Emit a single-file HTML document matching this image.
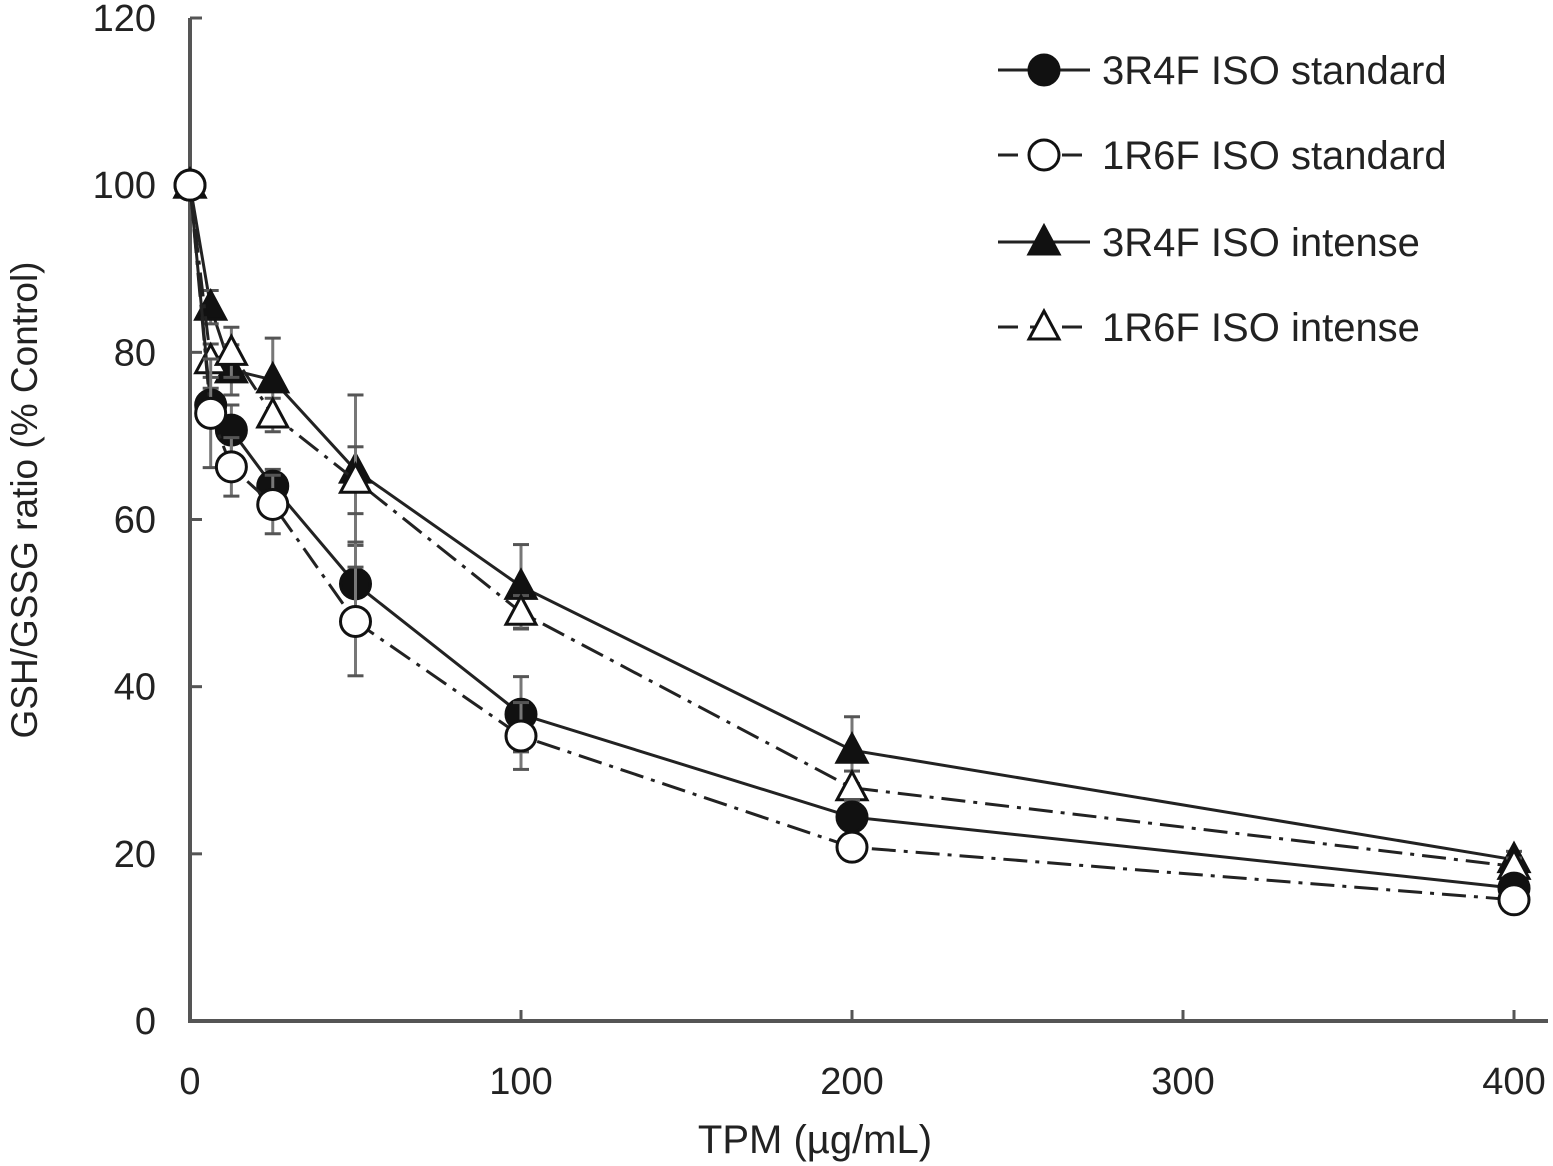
<!DOCTYPE html>
<html><head><meta charset="utf-8"><style>
html,body{margin:0;padding:0;background:#fff}
svg{display:block}
text{font-family:"Liberation Sans",Arial,sans-serif;fill:#222}
</style></head><body>
<svg id="chart" width="1553" height="1166" viewBox="0 0 1553 1166" xmlns="http://www.w3.org/2000/svg"></svg>
<script>
const doses=[0,6.25,12.5,25,50,100,200,400];
const s3R4Fstd=[100,73.7,70.7,64,52.3,36.7,24.4,15.9];
const e3R4Fstd=[0,2,3,2,5,4.5,2,1];
const s1R6Fstd=[100,72.7,66.3,61.8,47.8,34.1,20.8,14.5];
const e1R6Fstd=[0,6.5,3.5,3.5,6.5,4,1,1];
const s3R4Fint=[100,85.4,77.9,76.7,65.9,52,32.4,19.3];
const e3R4Fint=[0,2,3,5,9,5,4,1];
const s1R6Fint=[100,79,80,72.5,64.7,48.9,27.9,18.5];
const e1R6Fint=[0,2,3,2,4,2,2,1];
const xTicks=[0,100,200,300,400];
const yTicks=[0,20,40,60,80,100,120];
const legendLabels=["3R4F ISO standard","1R6F ISO standard","3R4F ISO intense","1R6F ISO intense"];

const svg=document.getElementById('chart');
const NS='http://www.w3.org/2000/svg';
const x=v=>190+v*3.31;
const y=v=>1021-v*(1003/120);
function mk(t,a,p){const e=document.createElementNS(NS,t);for(const k in a)e.setAttribute(k,a[k]);(p||svg).appendChild(e);return e;}
const C='#222';
let ax=mk('line',{x1:190,y1:18,x2:190,y2:1021,stroke:'#555','stroke-width':4});


ax=mk('line',{x1:188,y1:1021,x2:1548,y2:1021,stroke:'#555','stroke-width':4});


yTicks.forEach(v=>{
 mk('line',{x1:190,y1:y(v),x2:202,y2:y(v),stroke:'#555','stroke-width':3});
 const t=mk('text',{x:156,y:y(v)+13,'text-anchor':'end','font-size':38});t.textContent=v;
 
 
});
xTicks.forEach(v=>{
 mk('line',{x1:x(v),y1:1021,x2:x(v),y2:1010,stroke:'#555','stroke-width':3});
 const t=mk('text',{x:x(v),y:1094,'text-anchor':'middle','font-size':38});t.textContent=v;
 
 
});
let t=mk('text',{x:815,y:1153,'text-anchor':'middle','font-size':40});t.textContent='TPM (µg/mL)';


t=mk('text',{x:0,y:0,'text-anchor':'middle','font-size':37,transform:'translate(37,500) rotate(-90)'});t.textContent='GSH/GSSG ratio (% Control)';



function marker(g,cx,cy,type){
 const filled=type==='fc'||type==='ft';
 if(type[1]==='c') mk('circle',{cx,cy,r:15,fill:filled?'#111':'#fff',stroke:'#111','stroke-width':3},g);
 else mk('polygon',{points:`${cx},${cy-16} ${cx-15},${cy+12} ${cx+15},${cy+12}`,fill:filled?'#111':'#fff',stroke:'#111','stroke-width':3},g);
}
const series=[
 {d:s3R4Fint,e:e3R4Fint,m:'ft',dash:null,name:'series-3r4f-intense'},
 {d:s1R6Fint,e:e1R6Fint,m:'ot',dash:'24,8,4,8',name:'series-1r6f-intense'},
 {d:s3R4Fstd,e:e3R4Fstd,m:'fc',dash:null,name:'series-3r4f-standard'},
 {d:s1R6Fstd,e:e1R6Fstd,m:'oc',dash:'24,8,4,8',name:'series-1r6f-standard'}
];
series.forEach(s=>{
 const g=mk('g',{});
 
 
 const pts=doses.map((d,i)=>x(d)+','+y(s.d[i])).join(' ');
 const a={points:pts,fill:'none',stroke:C,'stroke-width':3};if(s.dash)a['stroke-dasharray']=s.dash;
 mk('polyline',a,g);
 doses.forEach((d,i)=>{
  if(s.e[i]>0){
   const up=y(s.d[i]+s.e[i]),dn=y(s.d[i]-s.e[i]);
   mk('line',{x1:x(d),y1:up,x2:x(d),y2:dn,stroke:'#777','stroke-width':3},g);
   mk('line',{x1:x(d)-8,y1:up,x2:x(d)+8,y2:up,stroke:'#555','stroke-width':3},g);
   mk('line',{x1:x(d)-8,y1:dn,x2:x(d)+8,y2:dn,stroke:'#555','stroke-width':3},g);
  }
 });
 doses.forEach((d,i)=>marker(g,x(d),y(s.d[i]),s.m));
});
const lm=['fc','oc','ft','ot'],ld=[null,'20,12',null,'20,12'],ly=[70,155,242,327];
legendLabels.forEach((l,i)=>{
 const g=mk('g',{});
 
 
 const a={x1:998,y1:ly[i],x2:1090,y2:ly[i],stroke:C,'stroke-width':3};if(ld[i])a['stroke-dasharray']=ld[i];
 mk('line',a,g);
 marker(g,1044,ly[i],lm[i]);
 const tt=mk('text',{x:1102,y:ly[i]+14,'font-size':40},g);tt.textContent=l;
});
</script>
</body></html>
